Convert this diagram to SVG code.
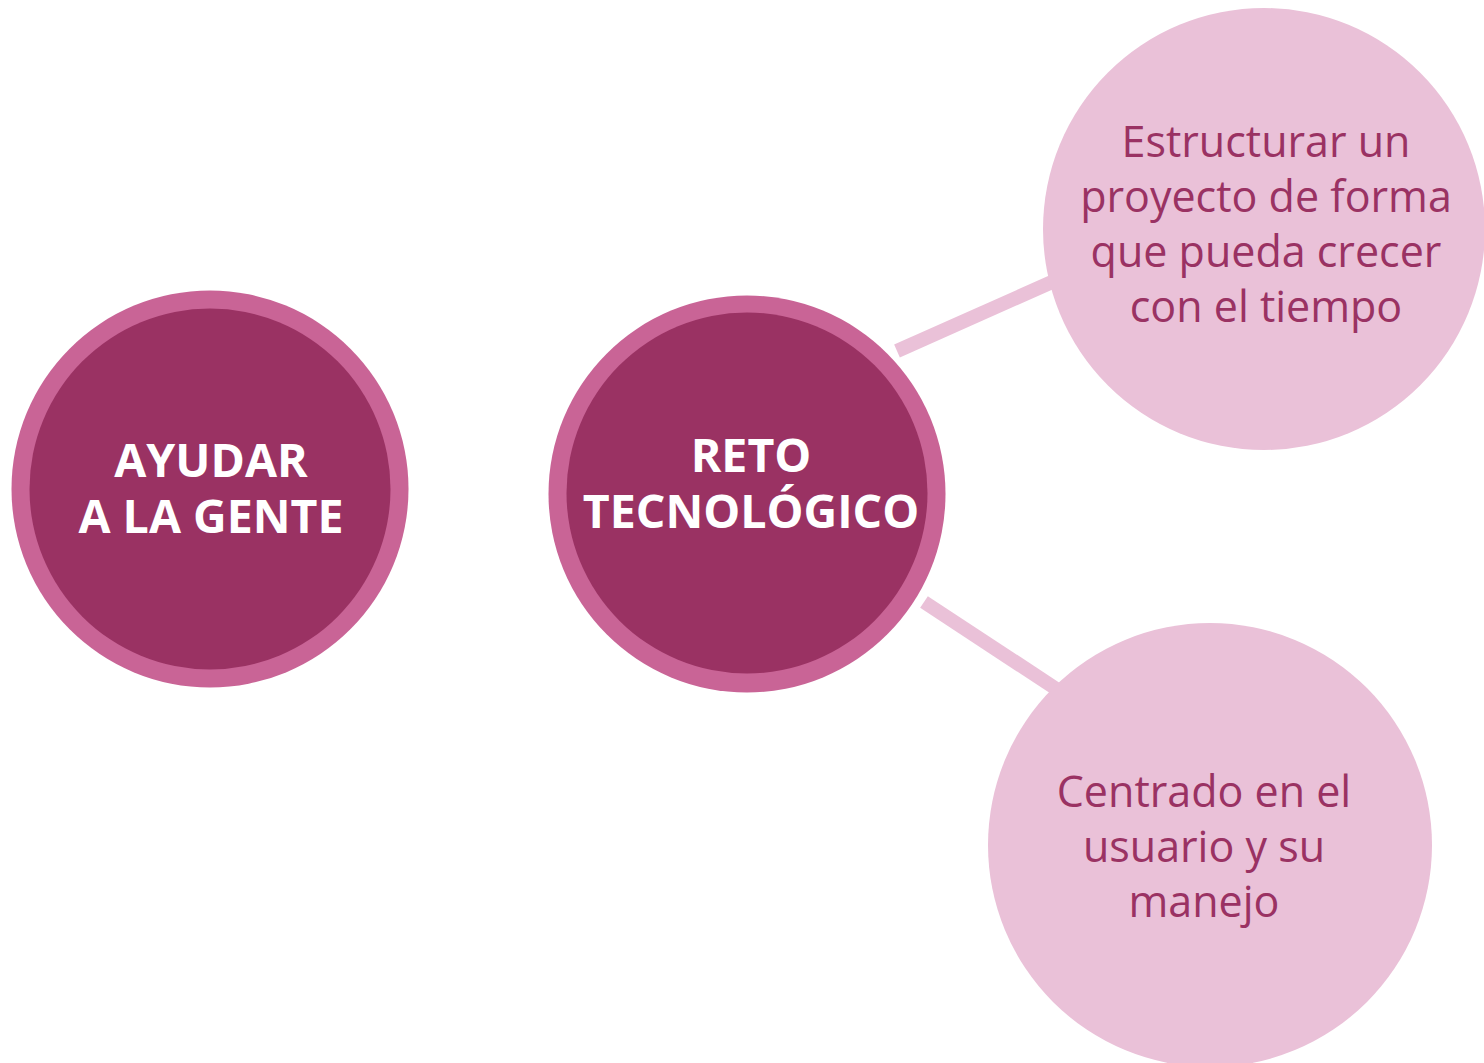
<svg xmlns="http://www.w3.org/2000/svg" width="1484" height="1063" viewBox="0 0 1484 1063">
<style>
.outer{fill:#C96496}
.inner{fill:#9A3263}
.light{fill:#EAC1D8}
.conn{stroke:#EAC1D8;stroke-width:14;fill:none}
.bold{font-family:"Open Sans","Noto Sans",sans-serif;font-weight:700;font-size:46.5px;fill:#FFFFFF;text-anchor:middle}
.reg{font-family:"Open Sans","Noto Sans",sans-serif;font-size:43px;fill:#9A3263;text-anchor:middle}
</style>
<rect width="1484" height="1063" fill="#FFFFFF"/>
<g id="connectors">
<line class="conn" x1="897" y1="351" x2="1070" y2="274"/>
<line class="conn" x1="924" y1="602" x2="1070" y2="698"/>
</g>
<g id="node-ayudar">
<circle class="outer" cx="210" cy="489" r="198.5"/>
<circle class="inner" cx="210" cy="489" r="180.5"/>
<text class="bold" x="211" y="477">AYUDAR</text>
<text class="bold" x="211" y="533">A LA GENTE</text>
</g>
<g id="node-reto">
<circle class="outer" cx="747" cy="494" r="198.5"/>
<circle class="inner" cx="747" cy="493" r="180.5"/>
<text class="bold" x="751" y="472">RETO</text>
<text class="bold" x="751" y="528">TECNOLÓGICO</text>
</g>
<g id="node-estructurar">
<circle class="light" cx="1264" cy="229" r="221"/>
<text class="reg" x="1266" y="157">Estructurar un</text>
<text class="reg" x="1266" y="212">proyecto de forma</text>
<text class="reg" x="1266" y="267">que pueda crecer</text>
<text class="reg" x="1266" y="322">con el tiempo</text>
</g>
<g id="node-centrado">
<circle class="light" cx="1210" cy="845" r="222"/>
<text class="reg" x="1204" y="807">Centrado en el</text>
<text class="reg" x="1204" y="862">usuario y su</text>
<text class="reg" x="1204" y="917">manejo</text>
</g>
</svg>
